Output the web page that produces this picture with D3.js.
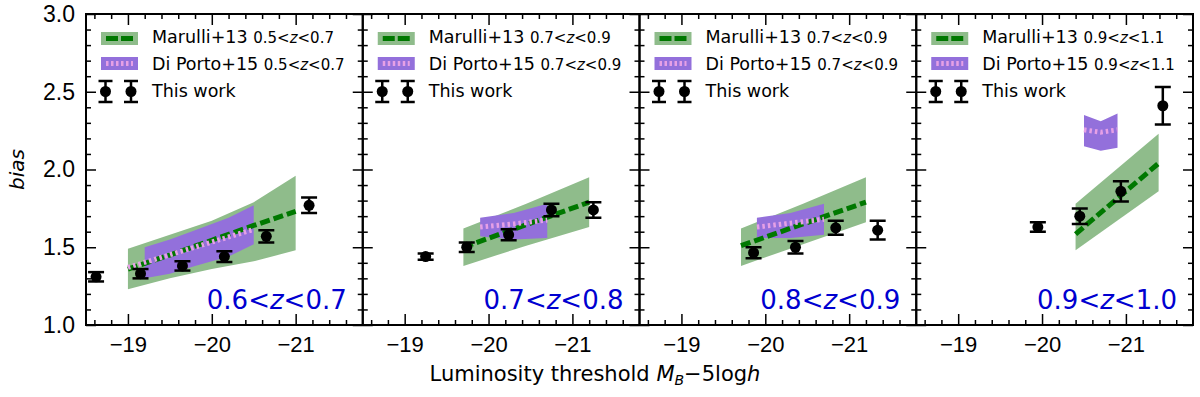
<!DOCTYPE html>
<html>
<head>
<meta charset="utf-8">
<script src="https://cdn.jsdelivr.net/npm/d3@7"></script>
<style>
  body { margin: 0; background: #fff; }
  svg { display: block; font-family: "DejaVu Sans", sans-serif; }
</style>
</head>
<body>
<svg id="chart" width="1200" height="397"></svg>
<script>
// redshift bins, one per panel
const panelLabels = [["0.6", "0.7"], ["0.7", "0.8"], ["0.8", "0.9"], ["0.9", "1.0"]]
const marulliRanges = [["0.5", "0.7"], ["0.7", "0.9"], ["0.7", "0.9"], ["0.9", "1.1"]]
const diportoRanges = [["0.5", "0.7"], ["0.7", "0.9"], ["0.7", "0.9"], ["0.9", "1.1"]]

// this work: threshold, bias, error
const workX = [
  [-18.62, -19.15, -19.65, -20.15, -20.65, -21.16],
  [-19.25, -19.74, -20.24, -20.75, -21.25],
  [-19.86, -20.36, -20.84, -21.34],
  [-19.95, -20.45, -20.94, -21.44]
]
const workY = [
  [1.31, 1.33, 1.38, 1.44, 1.57, 1.77],
  [1.44, 1.50, 1.58, 1.74, 1.74],
  [1.465, 1.50, 1.625, 1.61],
  [1.63, 1.70, 1.86, 2.41]
]
const workErr = [
  [0.03, 0.03, 0.03, 0.035, 0.04, 0.05],
  [0.02, 0.03, 0.035, 0.04, 0.05],
  [0.035, 0.04, 0.045, 0.06],
  [0.03, 0.05, 0.065, 0.12]
]

// Marulli+13 band and best fit
const marulliX = [
  [-19, -19.5, -20, -20.5, -21],
  [-19.7, -20.45, -21.2],
  [-19.71, -20.45, -21.2],
  [-20.4, -21.39]
]
const marulliLo = [
  [1.23, 1.30, 1.36, 1.41, 1.48],
  [1.38, 1.51, 1.63],
  [1.38, 1.52, 1.66],
  [1.48, 1.86]
]
const marulliHi = [
  [1.49, 1.58, 1.67, 1.79, 1.96],
  [1.62, 1.78, 1.95],
  [1.62, 1.78, 1.95],
  [1.78, 2.23]
]
const marulliMid = [
  [1.36, 1.45, 1.545, 1.64, 1.73],
  [1.50, 1.645, 1.79],
  [1.51, 1.65, 1.79],
  [1.585, 2.04]
]

// Di Porto+15 band and best fit
const diportoX = [
  [-19.2, -19.5, -19.8, -20.2, -20.5],
  [-19.9, -20.3, -20.7],
  [-19.9, -20.3, -20.7],
  [-20.5, -20.7, -20.9]
]
const diportoLo = [
  [1.30, 1.33, 1.38, 1.44, 1.52],
  [1.57, 1.55, 1.56],
  [1.56, 1.56, 1.58],
  [2.15, 2.12, 2.14]
]
const diportoHi = [
  [1.50, 1.55, 1.61, 1.69, 1.77],
  [1.69, 1.72, 1.78],
  [1.69, 1.72, 1.78],
  [2.35, 2.31, 2.36]
]
const diportoLineX = [
  [-19.0, -20.5],
  [-19.9, -20.3, -20.7],
  [-19.9, -20.3, -20.7],
  [-20.5, -20.7, -20.9]
]
const diportoLineY = [
  [1.37, 1.615],
  [1.63, 1.65, 1.675],
  [1.63, 1.655, 1.68],
  [2.255, 2.24, 2.255]
]

const yTicks = [1.0, 1.5, 2.0, 2.5, 3.0]
const xTicks = [-19, -20, -21]

const mLeft = 86, mRight = 1193, mTop = 14, mBottom = 325
const pw = (mRight - mLeft) / 4

const green = '#8fbc8b', purple = '#9370db', dash = '#007800', pink = '#e6a0e6'

const svg = d3.select('#chart')

const x = d3.scaleLinear().domain([-18.5, -21.8]).range([0, pw])
const y = d3.scaleLinear().domain([1, 3]).range([mBottom, mTop])

const xMinor = d3.range(-18.6, -21.7, -0.2).map(v => +v.toFixed(1)).filter(v => !xTicks.includes(v))
const yMinor = d3.range(1.1, 3.0, 0.1).map(v => +v.toFixed(1)).filter(v => !yTicks.includes(v))

const area = d3.area().x(d => x(d[0])).y0(d => y(d[1])).y1(d => y(d[2]))
const line = d3.line().x(d => x(d[0])).y(d => y(d[1]))

function zText(sel, lo, hi) {
  sel.append('tspan').text(lo + '<')
  sel.append('tspan').attr('font-style', 'italic').text('z')
  sel.append('tspan').text('<' + hi)
}

panelLabels.forEach((lab, i) => {
  const g = svg.append('g').attr('transform', `translate(${mLeft + i * pw},0)`)

  g.append('clipPath').attr('id', 'clip' + i)
    .append('rect').attr('x', 0).attr('y', mTop).attr('width', pw).attr('height', mBottom - mTop)
  const plot = g.append('g').attr('clip-path', `url(#clip${i})`)

  // Marulli band
  plot.append('path')
    .datum(marulliX[i].map((v, j) => [v, marulliLo[i][j], marulliHi[i][j]]))
    .attr('d', area).attr('fill', green)
  // Di Porto band
  plot.append('path')
    .datum(diportoX[i].map((v, j) => [v, diportoLo[i][j], diportoHi[i][j]]))
    .attr('d', area).attr('fill', purple)
  // lines
  plot.append('path')
    .datum(marulliX[i].map((v, j) => [v, marulliMid[i][j]]))
    .attr('d', line).attr('fill', 'none').attr('stroke', dash)
    .attr('stroke-width', 5).attr('stroke-dasharray', '10,4')
  plot.append('path')
    .datum(diportoLineX[i].map((v, j) => [v, diportoLineY[i][j]]))
    .attr('d', line).attr('fill', 'none').attr('stroke', pink)
    .attr('stroke-width', 5).attr('stroke-dasharray', '2.5,3')

  // this work
  const pts = plot.selectAll('.pt')
    .data(workX[i].map((v, j) => [v, workY[i][j], workErr[i][j]]))
    .enter().append('g').attr('class', 'pt')
  pts.append('line')
    .attr('x1', d => x(d[0])).attr('x2', d => x(d[0]))
    .attr('y1', d => y(d[1] - d[2])).attr('y2', d => y(d[1] + d[2]))
    .attr('stroke', '#000').attr('stroke-width', 2.5)
  pts.selectAll('.cap').data(d => [[d[0], d[1] - d[2]], [d[0], d[1] + d[2]]])
    .enter().append('line')
    .attr('x1', d => x(d[0]) - 8).attr('x2', d => x(d[0]) + 8)
    .attr('y1', d => y(d[1])).attr('y2', d => y(d[1]))
    .attr('stroke', '#000').attr('stroke-width', 2.5)
  pts.append('circle')
    .attr('cx', d => x(d[0])).attr('cy', d => y(d[1])).attr('r', 5.5).attr('fill', '#000')

  // axes, ticks pointing in
  const ax = (gen, tx, ty) => {
    const a = g.append('g').attr('transform', `translate(${tx},${ty})`).call(gen)
    a.select('.domain').remove()
    a.selectAll('line').attr('stroke-width', 1.5)
    return a
  }
  const xb = ax(d3.axisBottom(x).tickValues(xTicks).tickSize(-11).tickPadding(11)
    .tickFormat(d3.format('d')), 0, mBottom)
  xb.selectAll('text').attr('font-size', 22).attr('fill', '#000')
  ax(d3.axisBottom(x).tickValues(xMinor).tickSize(-5).tickFormat(''), 0, mBottom)
  ax(d3.axisTop(x).tickValues(xTicks).tickSize(-11).tickFormat(''), 0, mTop)
  ax(d3.axisTop(x).tickValues(xMinor).tickSize(-5).tickFormat(''), 0, mTop)

  const yl = ax(d3.axisLeft(y).tickValues(yTicks).tickSize(-10).tickPadding(11)
    .tickFormat(i === 0 ? d3.format('.1f') : ''), 0, 0)
  yl.selectAll('text').attr('font-size', 23).attr('fill', '#000')
  ax(d3.axisLeft(y).tickValues(yMinor).tickSize(-5).tickFormat(''), 0, 0)
  ax(d3.axisRight(y).tickValues(yTicks).tickSize(-10).tickFormat(''), pw, 0)
  ax(d3.axisRight(y).tickValues(yMinor).tickSize(-5).tickFormat(''), pw, 0)

  g.append('rect').attr('x', 0).attr('y', mTop).attr('width', pw).attr('height', mBottom - mTop)
    .attr('fill', 'none').attr('stroke', '#000').attr('stroke-width', 2)

  // panel redshift label
  g.append('text').attr('x', pw - 16).attr('y', 309).attr('text-anchor', 'end')
    .attr('font-size', 26).attr('fill', '#0000d0')
    .call(zText, lab[0], lab[1])

  // legend
  const lg = g.append('g')
  lg.append('rect').attr('x', 15).attr('y', 32).attr('width', 37).attr('height', 13).attr('fill', green)
  lg.append('line').attr('x1', 20).attr('x2', 47).attr('y1', 38.5).attr('y2', 38.5)
    .attr('stroke', dash).attr('stroke-width', 5).attr('stroke-dasharray', '12,3')
  lg.append('rect').attr('x', 15).attr('y', 57).attr('width', 37).attr('height', 13).attr('fill', purple)
  lg.append('line').attr('x1', 20).attr('x2', 47).attr('y1', 63.5).attr('y2', 63.5)
    .attr('stroke', pink).attr('stroke-width', 5).attr('stroke-dasharray', '2.5,2.5')
  ;[19.5, 45].forEach(px => {
    lg.append('line').attr('x1', px).attr('x2', px).attr('y1', 81).attr('y2', 102)
      .attr('stroke', '#000').attr('stroke-width', 2.5)
    ;[81, 102].forEach(py => lg.append('line').attr('x1', px - 7).attr('x2', px + 7)
      .attr('y1', py).attr('y2', py).attr('stroke', '#000').attr('stroke-width', 2.5))
    lg.append('circle').attr('cx', px).attr('cy', 91.5).attr('r', 5.5).attr('fill', '#000')
  })

  const t1 = lg.append('text').attr('x', 66).attr('y', 43).attr('font-size', 17.5)
  t1.append('tspan').text('Marulli+13 ')
  t1.append('tspan').attr('font-size', 15).call(zText, marulliRanges[i][0], marulliRanges[i][1])
  const t2 = lg.append('text').attr('x', 66).attr('y', 69.5).attr('font-size', 17.5)
  t2.append('tspan').text('Di Porto+15 ')
  t2.append('tspan').attr('font-size', 15).call(zText, diportoRanges[i][0], diportoRanges[i][1])
  lg.append('text').attr('x', 66).attr('y', 97).attr('font-size', 17.5).text('This work')
})

// axis titles
svg.append('text').attr('transform', `translate(24,${(mTop + mBottom) / 2}) rotate(-90)`)
  .attr('text-anchor', 'middle').attr('font-size', 20).attr('font-style', 'italic').text('bias')

const xl = svg.append('text').attr('x', 595).attr('y', 381)
  .attr('text-anchor', 'middle').attr('font-size', 21)
xl.append('tspan').text('Luminosity threshold ')
xl.append('tspan').attr('font-style', 'italic').text('M')
xl.append('tspan').attr('font-style', 'italic').attr('font-size', 14).attr('dy', 4).text('B')
xl.append('tspan').attr('dy', -4).text('\u22125log')
xl.append('tspan').attr('font-style', 'italic').text('h')
</script>
</body>
</html>
